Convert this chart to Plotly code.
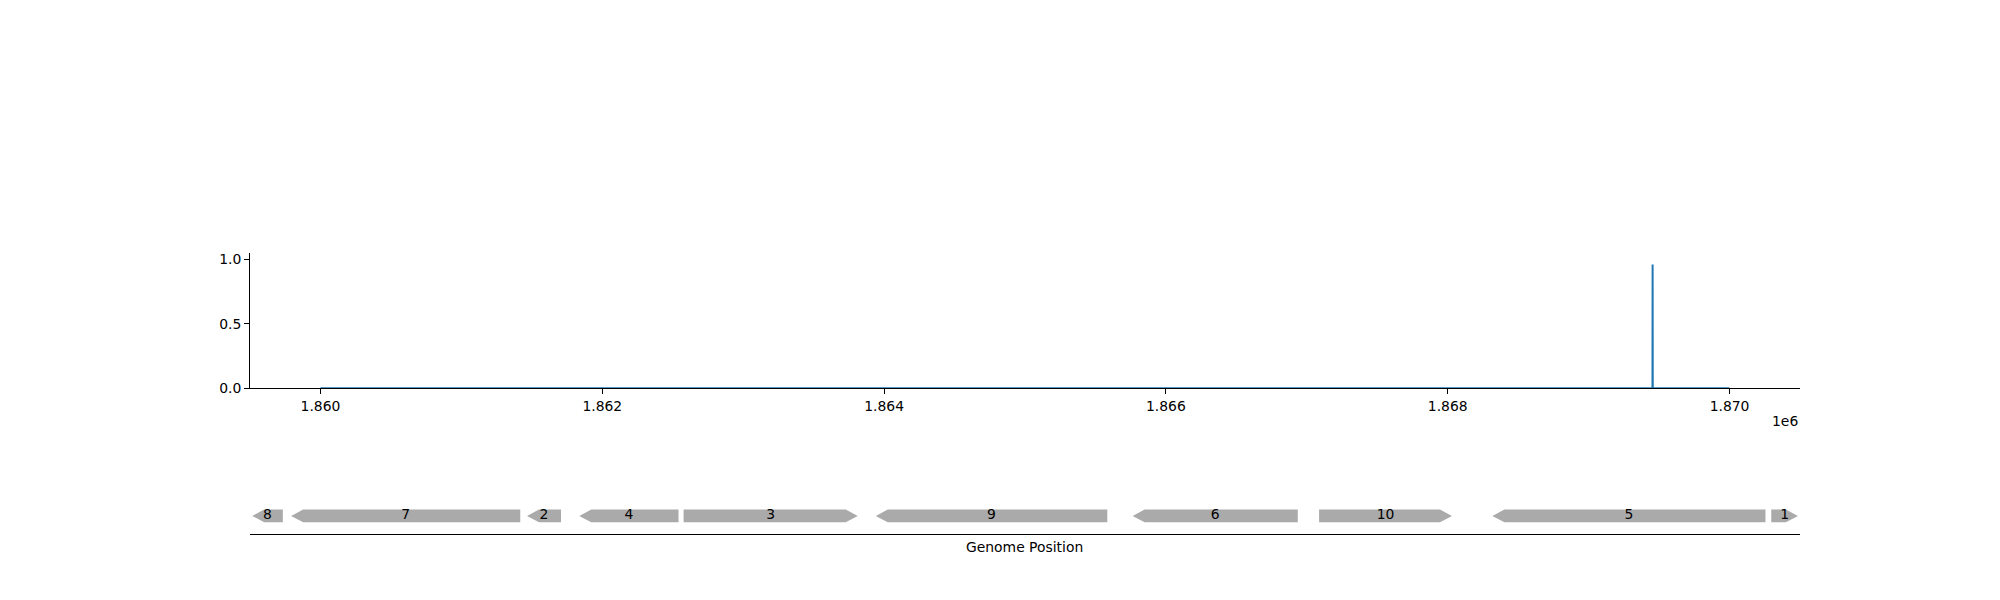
import plotly.graph_objects as go

# ---- data ----
cov_positions = [1860000, 1869453, 1869454, 1869455, 1870000]
cov_values = [0.0, 0.0, 0.962, 0.0, 0.0]

gene_names = ["8", "7", "2", "4", "3", "9", "6", "10", "5", "1"]
gene_starts = [1859516, 1859792, 1861466, 1861837, 1862577, 1863941, 1865764, 1867087, 1868317, 1870296]
gene_ends = [1859733, 1861418, 1861707, 1862541, 1863813, 1865584, 1866936, 1868030, 1870255, 1870485]
gene_strands = ["-", "-", "-", "-", "+", "-", "-", "+", "-", "+"]

x_tickvals = [1860000, 1862000, 1864000, 1866000, 1868000, 1870000]
x_ticktext = ["1.860", "1.862", "1.864", "1.866", "1.868", "1.870"]
y_tickvals = [0, 0.5, 1.0]
y_ticktext = ["0.0", "0.5", "1.0"]

x_range = [1859500, 1870500]
HEAD = 85  # arrow head length in bp
FONT = "DejaVu Sans"
FS = 13.9
W, H = 2000, 600
OFFX = 8  # page body margin offset
OFFY = 1


def px_x(p):
    return (p - OFFX) / W


def px_y(p):
    return 1 - (p - OFFY) / H


fig = go.Figure()

fig.add_trace(go.Scatter(
    x=cov_positions, y=cov_values, mode="lines",
    line=dict(color="#1f77b4", width=2), xaxis="x", yaxis="y",
    showlegend=False, hoverinfo="skip"))

# gene arrows
px, py = [], []
for s, e, st in zip(gene_starts, gene_ends, gene_strands):
    h = min(HEAD, (e - s) * 0.5)
    if st == "+":
        xs = [s, e - h, e, e - h, s, s]
        ys = [-0.5, -0.5, 0, 0.5, 0.5, -0.5]
    else:
        xs = [s, s + h, e, e, s + h, s]
        ys = [0, -0.5, -0.5, 0.5, 0.5, 0]
    px += xs + [None]
    py += ys + [None]
fig.add_trace(go.Scatter(
    x=px, y=py, mode="lines", fill="toself", fillcolor="#aaaaaa",
    line=dict(color="#aaaaaa", width=0), xaxis="x2", yaxis="y2",
    showlegend=False, hoverinfo="skip"))

fig.add_trace(go.Scatter(
    x=[(s + e) / 2 for s, e in zip(gene_starts, gene_ends)],
    y=[0] * len(gene_names), mode="text", text=gene_names,
    textfont=dict(family=FONT, size=FS, color="black"),
    textposition="middle center", cliponaxis=False,
    xaxis="x2", yaxis="y2", showlegend=False, hoverinfo="skip"))

axis_common = dict(showgrid=False, zeroline=False, linecolor="black", linewidth=1,
                   tickfont=dict(family=FONT, size=FS, color="black"))

fig.update_layout(
    width=W, height=H,
    margin=dict(l=0, r=0, t=0, b=0),
    paper_bgcolor="white", plot_bgcolor="white",
    font=dict(family=FONT, size=FS, color="black"),
    xaxis=dict(domain=[px_x(250), px_x(1800)], range=x_range, anchor="y",
               showline=True, ticks="outside", ticklen=5, tickwidth=1, tickcolor="black",
               tickvals=x_tickvals, ticktext=x_ticktext, **axis_common),
    yaxis=dict(domain=[px_y(385.7), px_y(248.3)], range=[0, 1.05], anchor="x",
               showline=True, ticks="outside", ticklen=5, tickwidth=1, tickcolor="black",
               tickvals=y_tickvals, ticktext=y_ticktext, **axis_common),
    xaxis2=dict(domain=[px_x(250), px_x(1800)], range=x_range, anchor="y2",
                showline=True, ticks="", showticklabels=False, **axis_common),
    yaxis2=dict(domain=[px_y(534), px_y(497)], range=[-1.423, 1.423], anchor="x2",
                visible=False, showgrid=False, zeroline=False),
    annotations=[
        dict(text="1e6", xref="paper", yref="paper", x=px_x(1800), y=px_y(419.3),
             xanchor="right", yanchor="middle", showarrow=False,
             font=dict(family=FONT, size=FS, color="black")),
        dict(text="Genome Position", xref="paper", yref="paper", x=px_x(1025), y=px_y(546.7),
             xanchor="center", yanchor="middle", showarrow=False,
             font=dict(family=FONT, size=FS, color="black")),
    ],
)

fig.write_html("out.html")
